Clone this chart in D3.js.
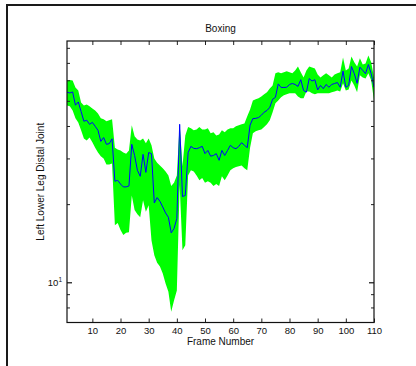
<!DOCTYPE html>
<html>
<head>
<meta charset="utf-8">
<script src="https://cdn.jsdelivr.net/npm/d3@7"></script>
<style>
  html, body { margin: 0; padding: 0; background: #fff; }
  svg { display: block; }
  text { font-family: "Liberation Sans", Arial, Helvetica, sans-serif; fill: #111; }
</style>
</head>
<body>
<svg id="chart" width="416" height="366"></svg>
<script>
// ---- data ----
const title = "Boxing";
const xLabel = "Frame Number";
const yLabel = "Left Lower Leg Distal Joint";

const meanValues = [
  54.0, 53.6, 54.1, 48.1, 49.5, 45.5, 41.7, 42.1, 40.6, 41.3,
  39.9, 38.5, 34.9, 36.1, 34.0, 34.2, 35.7, 24.5, 24.7, 23.9,
  23.3, 23.3, 23.5, 34.0, 30.8, 27.0, 25.6, 31.1, 26.5, 31.6,
  31.3, 20.2, 21.2, 20.5, 19.5, 18.5, 17.8, 15.5, 16.1, 17.6,
  40.6, 21.4, 21.6, 31.6, 33.4, 32.8, 32.7, 33.0, 33.4, 31.3,
  32.2, 30.6, 30.8, 31.3, 29.5, 32.2, 30.8, 32.2, 33.7, 33.0,
  32.7, 33.4, 34.5, 33.7, 33.0, 40.3, 42.7, 42.8, 43.1, 44.0,
  45.2, 45.9, 47.2, 50.7, 51.6, 58.1, 56.3, 56.3, 56.4, 57.8,
  58.3, 57.8, 56.8, 60.3, 54.8, 54.0, 60.9, 59.6, 60.3, 55.1,
  57.3, 55.7, 57.8, 56.4, 57.8, 58.3, 58.8, 56.4, 65.1, 56.4,
  57.3, 67.8, 63.6, 58.4, 67.4, 65.5, 63.6, 69.0, 63.6, 56.4
];
const upperValues = [
  59.9, 60.2, 59.9, 56.3, 54.8, 49.3, 48.0, 48.4, 47.6, 46.7,
  45.9, 44.7, 42.8, 42.5, 41.7, 42.1, 42.5, 33.0, 32.5, 32.2,
  31.6, 31.3, 32.2, 40.3, 36.5, 35.5, 35.2, 35.8, 34.3, 35.8,
  33.7, 30.0, 28.9, 28.2, 27.5, 26.7, 25.8, 23.5, 24.2, 25.8,
  40.9, 28.0, 36.8, 39.6, 39.2, 38.5, 38.8, 39.6, 38.8, 38.8,
  39.2, 37.5, 37.8, 36.8, 37.1, 38.5, 37.8, 38.8, 39.2, 39.2,
  39.9, 40.3, 40.6, 40.9, 43.6, 46.3, 50.2, 50.7, 51.1, 52.0,
  53.0, 54.0, 55.8, 57.3, 63.8, 64.4, 63.8, 64.4, 65.0, 64.4,
  63.8, 65.5, 67.8, 64.4, 61.5, 65.5, 67.8, 67.2, 66.6, 63.2,
  61.5, 62.7, 63.8, 62.7, 61.5, 63.2, 63.8, 64.4, 73.5, 65.5,
  66.6, 74.1, 70.4, 67.8, 72.9, 69.0, 69.6, 74.8, 70.4, 61.5
];
const lowerValues = [
  48.0, 47.6, 45.9, 42.8, 41.3, 38.5, 35.8, 35.2, 36.1, 34.6,
  33.0, 31.6, 30.6, 30.0, 28.4, 28.4, 28.7, 16.6, 16.9, 15.9,
  15.2, 15.5, 15.6, 21.6, 19.0, 18.3, 17.8, 20.7, 18.7, 19.8,
  14.5, 12.7, 11.9, 11.5, 10.8, 9.9, 9.2, 7.7, 8.5, 9.3,
  23.7, 13.3, 13.9, 25.8, 27.0, 26.7, 25.8, 24.7, 25.2, 24.2,
  24.5, 24.2, 23.5, 23.9, 23.5, 25.6, 24.7, 25.8, 27.0, 27.5,
  27.8, 28.0, 28.2, 27.5, 27.0, 33.0, 37.5, 38.2, 38.5, 38.8,
  39.6, 40.6, 42.1, 45.2, 48.9, 50.2, 51.6, 52.5, 53.0, 53.5,
  53.5, 53.5, 52.0, 51.1, 51.1, 54.3, 54.3, 53.5, 53.0, 53.5,
  53.5, 53.5, 53.5, 53.5, 54.0, 54.3, 54.8, 54.3, 58.4, 54.8,
  55.3, 59.9, 57.3, 54.0, 62.7, 61.5, 60.9, 63.8, 59.9, 50.2
];
const xTicks = [10, 20, 30, 40, 50, 60, 70, 80, 90, 100, 110];
const yMinorTicks = [8, 9, 20, 30, 40, 50, 60, 70, 80];
const yMajorTicks = [10];
const xDomain = [1, 110];
const yDomain = [7, 85];

// ---- drawing ----
const svg = d3.select("#chart");
const L = 67, R = 374, T = 41, B = 322.5;

const x = d3.scaleLinear().domain(xDomain).range([L, R]);
const y = d3.scaleLog().domain(yDomain).range([B, T]);

const rows = meanValues.map((m, i) => ({
  f: i + 1, m: m, hi: upperValues[i], lo: lowerValues[i]
}));

// outer figure frame
svg.append("rect")
  .attr("x", 7).attr("y", 5).attr("width", 430).attr("height", 420)
  .attr("fill", "none").attr("stroke", "#1a1a1a").attr("stroke-width", 2);

svg.append("clipPath").attr("id", "clip")
  .append("rect").attr("x", L).attr("y", T).attr("width", R - L).attr("height", B - T);

const plot = svg.append("g").attr("clip-path", "url(#clip)");

plot.append("path")
  .datum(rows)
  .attr("fill", "#00ff00")
  .attr("stroke", "none")
  .attr("d", d3.area().x(d => x(d.f)).y0(d => y(d.lo)).y1(d => y(d.hi)));

plot.append("path")
  .datum(rows)
  .attr("fill", "none")
  .attr("stroke", "#0000ff")
  .attr("stroke-width", 1)
  .attr("d", d3.line().x(d => x(d.f)).y(d => y(d.m)));

// axes
const fontSize = "9.5px";
const xb = svg.append("g").attr("transform", `translate(0,${B})`)
  .call(d3.axisBottom(x).tickValues(xTicks).tickSizeInner(-4).tickSizeOuter(0).tickPadding(5).tickFormat(d3.format("d")));
xb.select(".domain").remove();
xb.selectAll("text").attr("font-size", fontSize).attr("font-family", "Liberation Sans, Arial, sans-serif").attr("fill", "#111");
xb.selectAll("line").attr("stroke", "#222");

const xt = svg.append("g").attr("transform", `translate(0,${T})`)
  .call(d3.axisTop(x).tickValues(xTicks).tickSizeInner(-4).tickSizeOuter(0).tickFormat(""));
xt.select(".domain").remove();
xt.selectAll("line").attr("stroke", "#222");

function yTicksSide(side) {
  const ax = side === "left" ? d3.axisLeft(y) : d3.axisRight(y);
  const g1 = svg.append("g").attr("transform", `translate(${side === "left" ? L : R},0)`)
    .call(ax.tickValues(yMinorTicks).tickSizeInner(-3).tickSizeOuter(0).tickFormat(""));
  g1.select(".domain").remove();
  g1.selectAll("line").attr("stroke", "#222");
  const ax2 = side === "left" ? d3.axisLeft(y) : d3.axisRight(y);
  const g2 = svg.append("g").attr("transform", `translate(${side === "left" ? L : R},0)`)
    .call(ax2.tickValues(yMajorTicks).tickSizeInner(-5).tickSizeOuter(0).tickFormat(""));
  g2.select(".domain").remove();
  g2.selectAll("line").attr("stroke", "#111").attr("stroke-width", 1.2);
}
yTicksSide("left");
yTicksSide("right");

// 10^1 label
yMajorTicks.forEach(v => {
  const t = svg.append("text")
    .attr("x", L - 5).attr("y", y(v) + 4)
    .attr("text-anchor", "end").attr("font-size", fontSize);
  t.append("tspan").text("10");
  t.append("tspan").attr("dy", -4).attr("font-size", "6.5px").text(Math.round(Math.log10(v)));
});

// axes box
svg.append("rect")
  .attr("x", L).attr("y", T).attr("width", R - L).attr("height", B - T)
  .attr("fill", "none").attr("stroke", "#111").attr("stroke-width", 1.2);

// labels
svg.append("text").attr("x", (L + R) / 2).attr("y", 32)
  .attr("text-anchor", "middle").attr("font-size", "10px").text(title);
svg.append("text").attr("x", (L + R) / 2).attr("y", 345)
  .attr("text-anchor", "middle").attr("font-size", "10px").text(xLabel);
svg.append("text")
  .attr("transform", `translate(44,${(T + B) / 2}) rotate(-90)`)
  .attr("text-anchor", "middle").attr("font-size", "10px").text(yLabel);
</script>
</body>
</html>
